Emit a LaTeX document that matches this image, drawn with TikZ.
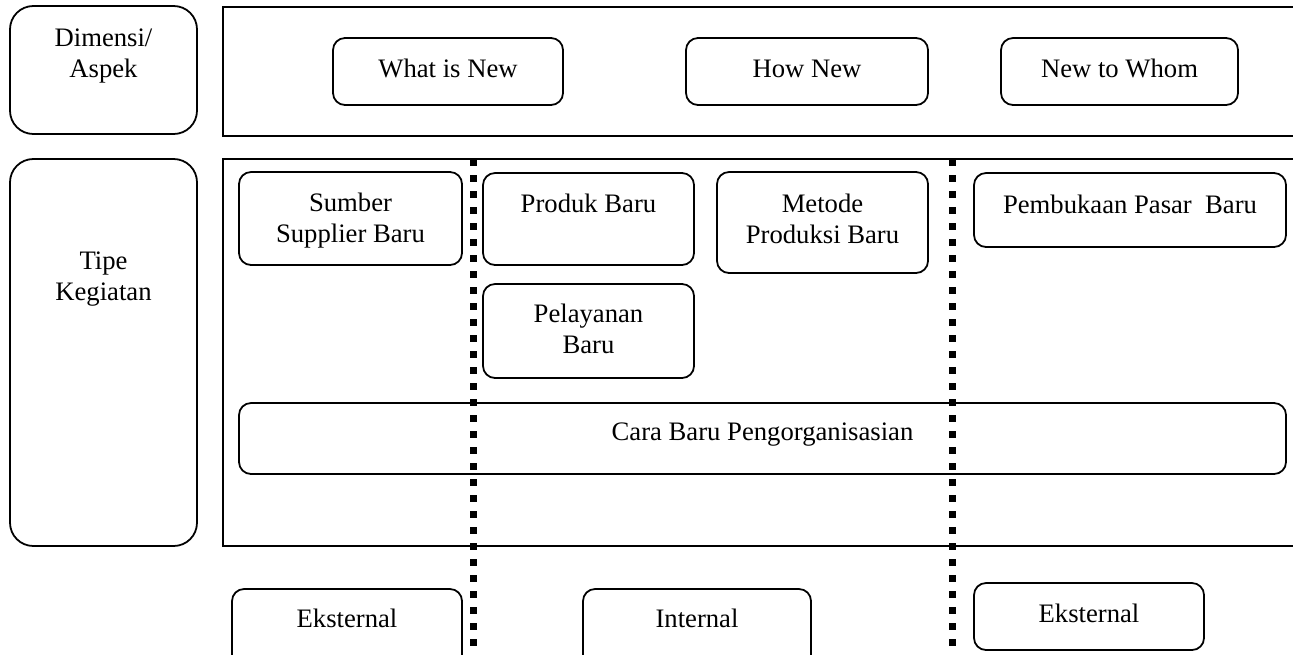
\documentclass[tikz,border=0pt]{standalone}
\usepackage{fontspec}
\setmainfont{Liberation Serif}
\usetikzlibrary{fit}
\begin{document}
\begin{tikzpicture}[x=0.45pt,y=-0.45pt,
  box/.style={draw, line width=0.8pt, rounded corners=5.4pt, inner sep=0pt},
  bigbox/.style={draw, line width=0.8pt, rounded corners=10.5pt, inner sep=0pt},
  framebox/.style={draw, line width=0.8pt, inner sep=0pt},
  txt/.style={font=\fontsize{12}{13.8}\selectfont, align=center, inner sep=0pt, anchor=base},
  sepline/.style={line width=3.15pt, dash pattern=on 3.15pt off 4.05pt}]
\useasboundingbox (0,0) rectangle (1293,654);

% left labels
\node[bigbox, fit={(10,6) (197,134)}] (dimbox) {};
\node[txt] (dimtxt) at (103.5,77) {Dimensi/\\Aspek};
\node[bigbox, fit={(10,159) (197,546)}] (tipebox) {};
\node[txt] (tipetxt) at (103.5,300) {Tipe\\Kegiatan};

% frames
\node[framebox, fit={(223,7) (1320,136)}] (topframe) {};
\node[framebox, fit={(223,159) (1320,546)}] (actframe) {};

% top row
\node[box, fit={(333,38) (563,105)}] (whatnew) {};
\node[txt] (whatnewtxt) at (448,77) {What is New};
\node[box, fit={(686,38) (928,105)}] (hownew) {};
\node[txt] (hownewtxt) at (807,77) {How New};
\node[box, fit={(1001,38) (1238,105)}] (newwhom) {};
\node[txt] (newwhomtxt) at (1119.5,77) {New to Whom};

% activities
\node[box, fit={(239,172) (462,265)}] (sumber) {};
\node[txt] (sumbertxt) at (350.5,242) {Sumber\\Supplier Baru};
\node[box, fit={(483,173) (694,265)}] (produk) {};
\node[txt] (produktxt) at (588.5,212) {Produk Baru};
\node[box, fit={(717,172) (928,273)}] (metode) {};
\node[txt] (metodetxt) at (822.5,243) {Metode\\Produksi Baru};
\node[box, fit={(974,173) (1286,247)}] (pasar) {};
\node[txt] (pasartxt) at (1130,213) {Pembukaan Pasar\ \ Baru};
\node[box, fit={(483,284) (694,378)}] (pelayanan) {};
\node[txt] (pelayanantxt) at (588.5,353) {Pelayanan\\Baru};
\node[box, fit={(239,403) (1286,474)}] (cara) {};
\node[txt] (caratxt) at (762.5,440) {Cara Baru Pengorganisasian};

% bottom row
\node[box, fit={(232,589) (462,680)}] (ekst1) {};
\node[txt] (ekst1txt) at (347,627) {Eksternal};
\node[box, fit={(583,589) (811,680)}] (intern) {};
\node[txt] (interntxt) at (697,627) {Internal};
\node[box, fit={(974,583) (1204,650)}] (ekst2) {};
\node[txt] (ekst2txt) at (1089,622) {Eksternal};

% dotted separators
\coordinate (sepAtop) at (473,159);
\coordinate (sepAbot) at (473,670);
\coordinate (sepBtop) at (952,159);
\coordinate (sepBbot) at (952,670);
\draw[sepline] (sepAtop) -- (sepAbot);
\draw[sepline] (sepBtop) -- (sepBbot);
\end{tikzpicture}
\end{document}
